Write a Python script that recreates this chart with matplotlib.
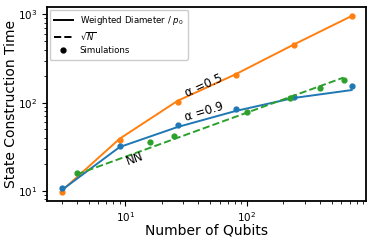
import matplotlib
matplotlib.use("Agg")
import matplotlib.pyplot as plt
import numpy as np

# Data
n_tree = [3, 9, 27, 81, 243, 729]
orange_line = [10, 39, 105, 210, 455, 960]
orange_sim = [9.7, 37.7, 102, 206, 453, 966]
blue_line = [10.2, 31.4, 53, 80.5, 113, 139]
blue_sim = [10.7, 32.2, 55.8, 84.7, 116, 155]
n_grid = [4, 16, 25, 100, 225, 400, 625]
green_sim = [15.9, 35.7, 41.9, 78, 113, 147, 181]
sqrt_coef = 7.7

fig = plt.figure(figsize=(3.74, 2.40), dpi=100)
ax = fig.add_axes([0.126, 0.163, 0.853, 0.808])

c_or, c_bl, c_gr = "#ff7f0e", "#1f77b4", "#2ca02c"
ax.plot(n_tree, orange_line, color=c_or, lw=1.4)
ax.plot(n_tree, orange_sim, "o", color=c_or, ms=3.5)
ax.plot(n_tree, blue_line, color=c_bl, lw=1.4)
ax.plot(n_tree, blue_sim, "o", color=c_bl, ms=3.5)
ng = np.array(n_grid, dtype=float)
ax.plot(ng, sqrt_coef * np.sqrt(ng), "--", color=c_gr, lw=1.4)
ax.plot(n_grid, green_sim, "o", color=c_gr, ms=3.5)

ax.set_xscale("log")
ax.set_yscale("log")

ax.plot([], [], "-", color="k", lw=1.4, label="Weighted Diameter / $p_0$")
ax.plot([], [], "--", color="k", lw=1.4, label="$\\sqrt{N}$")
ax.plot([], [], "o", color="k", ms=3.5, label="Simulations")
ax.legend(loc="upper left", fontsize=6.2, handlelength=2.2, borderpad=0.5,
          labelspacing=0.45, framealpha=1, borderaxespad=0.3)

ax.text(44, 155, "α =0.5", fontsize=8.5, rotation=24, ha="center", va="center")
ax.text(44.6, 78, "α =0.9", fontsize=8.5, rotation=17, ha="center", va="center")
ax.text(12.1, 22.9, "NN", fontsize=8.5, rotation=20, ha="center", va="center")

ax.set_xlabel("Number of Qubits", fontsize=10, labelpad=-1)
ax.set_ylabel("State Construction Time", fontsize=10, labelpad=0)
ax.tick_params(labelsize=7.5)
for s in ax.spines.values():
    s.set_linewidth(1.3)

fig.savefig("out.png", dpi=100)
